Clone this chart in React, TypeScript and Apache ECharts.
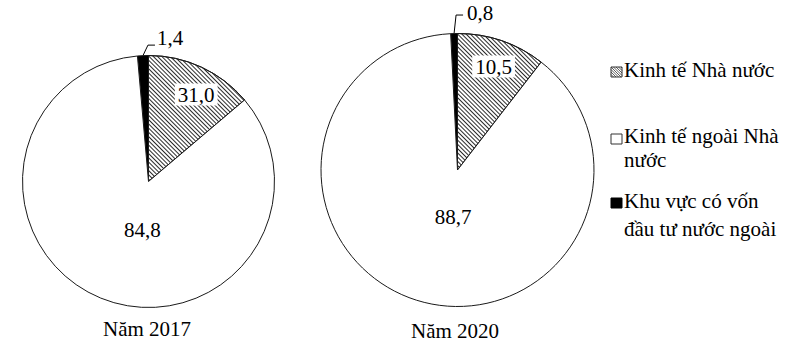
import React, { useEffect, useRef } from 'react';
import * as echarts from 'echarts';

// Categories (order of drawing, clockwise from the black slice)
const categories = ['Khu vực có vốn đầu tư nước ngoài', 'Kinh tế Nhà nước', 'Kinh tế ngoài Nhà nước'];
// Slice sizes as drawn in the picture (2017 hatched slice is drawn as 13.8 %, labelled "31,0")
const values2017 = [1.4, 13.8, 84.8];
const labels2017 = ['1,4', '31,0', '84,8'];
const values2020 = [0.8, 10.5, 88.7];
const labels2020 = ['0,8', '10,5', '88,7'];
const years = ['Năm 2017', 'Năm 2020'];
const legendLines = [['Kinh tế Nhà nước'], ['Kinh tế ngoài Nhà', 'nước'], ['Khu vực có vốn', 'đầu tư nước ngoài']];

const FONT = '"Liberation Serif", "Times New Roman", serif';
const FS = 21;

const hatchDecal = {
  symbol: 'rect',
  symbolSize: 1,
  dashArrayX: [1, 0],
  dashArrayY: [1, 2],
  rotation: Math.PI / 4,
  color: '#2a2a2a',
};

const sliceStyles = [
  { color: '#000' },
  { color: '#fff', decal: hatchDecal },
  { color: '#fff' },
];

type Leader = { cx: number; cy: number; ex: number; tx: number; ty: number };

function pieSeries(
  values: number[],
  labels: string[],
  center: number[],
  radius: number,
  offsets: number[][],
  leader: Leader
) {
  const startAngle = 90 + values[0] * 3.6;
  return {
    type: 'pie',
    center,
    radius,
    startAngle,
    clockwise: true,
    avoidLabelOverlap: false,
    silent: true,
    itemStyle: { borderColor: '#1a1a1a', borderWidth: 1 },
    label: {
      show: true,
      position: 'inside',
      formatter: (p: any) => labels[p.dataIndex],
      fontFamily: FONT,
      fontSize: FS,
      color: '#000',
    },
    labelLine: { show: false },
    data: values.map((v, i) => ({
      value: v,
      name: categories[i],
      itemStyle: sliceStyles[i],
      label:
        i === 0
          ? { position: 'outside' }
          : i === 1
          ? { backgroundColor: '#fff', padding: [1, 3, 0, 3] }
          : {},
      labelLine:
        i === 0
          ? { show: true, length: 8, length2: 8, smooth: false, lineStyle: { color: '#000', width: 1 } }
          : { show: false },
    })),
    labelLayout: (params: any) => {
      if (params.dataIndex === 0 && params.labelLinePoints) {
        const p = params.labelLinePoints[0];
        return {
          x: p[0] + leader.tx,
          y: p[1] + leader.ty,
          align: 'left',
          verticalAlign: 'middle',
          labelLinePoints: [
            [p[0], p[1]],
            [p[0] + leader.cx, p[1] + leader.cy],
            [p[0] + leader.ex, p[1] + leader.cy],
          ],
        };
      }
      const o = offsets[params.dataIndex] || [0, 0];
      return { dx: o[0], dy: o[1] };
    },
  };
}

function hatchIcon(x: number, y: number, w: number, h: number) {
  const children: any[] = [
    { type: 'rect', shape: { x, y, width: w, height: h }, style: { fill: '#fff', stroke: '#333', lineWidth: 1 } },
  ];
  const step = 2.5;
  for (let a = step; a < w + h; a += step) {
    let x1 = x + a - h, y1 = y;
    if (x1 < x) { y1 = y + (x - x1); x1 = x; }
    let x2 = x + a, y2 = y + h;
    if (x2 > x + w) { y2 = y + h - (x2 - (x + w)); x2 = x + w; }
    if (y1 >= y2) continue;
    children.push({ type: 'line', shape: { x1, y1, x2, y2 }, style: { stroke: '#333', lineWidth: 0.8 } });
  }
  return { type: 'group', children };
}

export default function App() {
  const ref = useRef<HTMLDivElement>(null);
  useEffect(() => {
    document.body.style.margin = '0';
    if (!ref.current) return;
    const chart = echarts.init(ref.current, undefined, { renderer: 'svg' });

    const textStyle = (text: string, x: number, y: number, align: string = 'left') => ({
      type: 'text',
      x,
      y,
      style: { text, fill: '#000', font: `${FS}px ${FONT}`, textAlign: align, textVerticalAlign: 'middle' },
    });

    const legendY = [[70], [136, 160], [201, 229]];
    const iconY = [67, 134, 198];
    const graphic: any[] = [
      textStyle(years[0], 147, 329, 'center'),
      textStyle(years[1], 455, 331, 'center'),
      hatchIcon(611, iconY[0], 11, 10),
      { type: 'rect', shape: { x: 611, y: iconY[1], width: 11, height: 10 }, style: { fill: '#fff', stroke: '#333', lineWidth: 1 } },
      { type: 'rect', shape: { x: 611, y: iconY[2], width: 11, height: 10 }, style: { fill: '#000', stroke: '#000', lineWidth: 1 } },
    ];
    legendLines.forEach((lines, i) => {
      lines.forEach((t, j) => graphic.push(textStyle(t, 624, legendY[i][j])));
    });

    chart.setOption({
      animation: false,
      backgroundColor: '#fff',
      series: [
        pieSeries(values2017, labels2017, [148.5, 181.5], 126, [[0, 0], [20, -27], [19, -13]], {
          cx: 5, cy: -10.5, ex: 12, tx: 14, ty: -17.5,
        }),
        pieSeries(values2020, labels2020, [457.5, 170], 136.5, [[0, 0], [13, -36], [17, -21]], {
          cx: 2, cy: -18.5, ex: 9, tx: 13, ty: -20.5,
        }),
      ],
      graphic,
    });
    return () => chart.dispose();
  }, []);
  return <div ref={ref} style={{ width: 787, height: 342 }} />;
}
